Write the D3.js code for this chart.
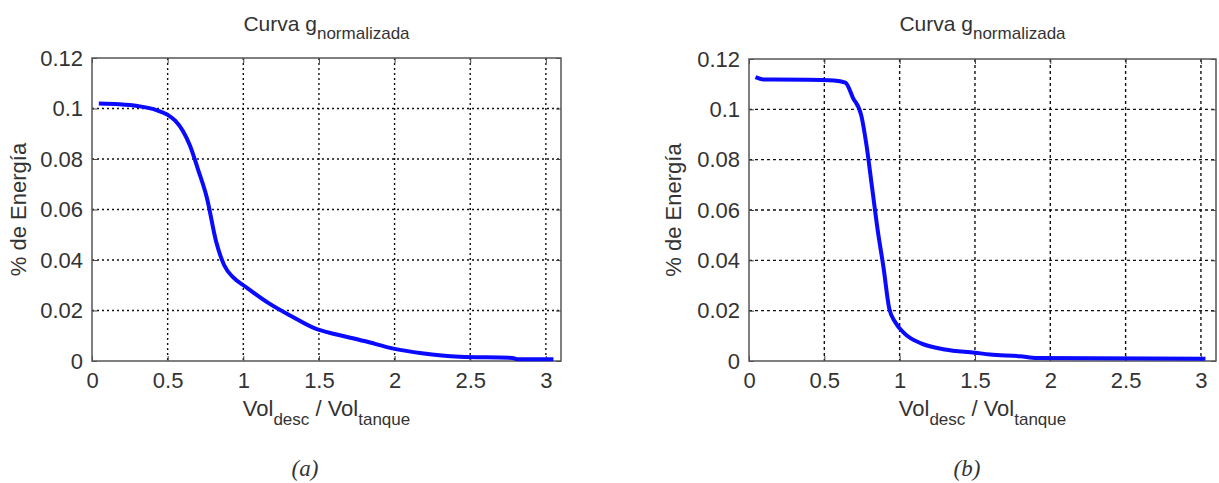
<!DOCTYPE html>
<html>
<head>
<meta charset="utf-8">
<script src="https://cdn.jsdelivr.net/npm/d3@7"></script>
<style>
  body { margin: 0; background: #fff; }
  text { font-family: "Liberation Sans", Arial, sans-serif; fill: #333; }
</style>
</head>
<body>
<svg id="chart" width="1219" height="483"></svg>
<script>
// tick labels shared by both panels
const xTicks = [0, 0.5, 1, 1.5, 2, 2.5, 3];
const yTicks = [0, 0.02, 0.04, 0.06, 0.08, 0.1, 0.12];

// panel (a)
const volA = [0.045, 0.18, 0.30, 0.43, 0.50, 0.55, 0.60, 0.646, 0.70, 0.76, 0.82, 0.873, 0.937, 1.01, 1.165, 1.316, 1.49, 1.57, 1.8, 2.0, 2.18, 2.43, 2.78, 2.81, 3.05];
const energyA = [0.102, 0.1017, 0.101, 0.0993, 0.0975, 0.0952, 0.0912, 0.0855, 0.076, 0.0645, 0.0474, 0.038, 0.0329, 0.0296, 0.023, 0.0178, 0.0125, 0.0112, 0.0079, 0.0048, 0.0031, 0.0017, 0.0012, 0.0007, 0.0007];

// panel (b)
const volB = [0.043, 0.094, 0.386, 0.563, 0.64, 0.69, 0.746, 0.779, 0.817, 0.855, 0.893, 0.931, 0.97, 1.033, 1.147, 1.3, 1.5, 1.6, 1.8, 1.91, 3.03];
const energyB = [0.1128, 0.1119, 0.1118, 0.1115, 0.1106, 0.1046, 0.0974, 0.0861, 0.0689, 0.0517, 0.0371, 0.0208, 0.0155, 0.0109, 0.0069, 0.0046, 0.0033, 0.0026, 0.0019, 0.0012, 0.0009];

const svg = d3.select("#chart");

function drawPanel(cfg) {
    const x = d3.scaleLinear().domain([0, 3.1]).range([cfg.left, cfg.right]);
    const y = d3.scaleLinear().domain([0, 0.12]).range([cfg.bottom, cfg.top]);
    const mid = (cfg.left + cfg.right) / 2;
    const g = svg.append("g");

    // dotted grid
    g.append("g").selectAll("line")
        .data(xTicks.slice(1))
        .join("line")
        .attr("x1", d => x(d)).attr("x2", d => x(d))
        .attr("y1", cfg.top).attr("y2", cfg.bottom)
        .attr("stroke", "#111").attr("stroke-width", 1.4)
        .attr("stroke-dasharray", cfg.dash);
    g.append("g").selectAll("line")
        .data(yTicks.slice(1, -1))
        .join("line")
        .attr("y1", d => y(d)).attr("y2", d => y(d))
        .attr("x1", cfg.left).attr("x2", cfg.right)
        .attr("stroke", "#111").attr("stroke-width", 1.4)
        .attr("stroke-dasharray", cfg.dash);

    // axes, ticks inward on all four sides
    const xAxis = g.append("g")
        .attr("transform", `translate(0,${cfg.bottom})`)
        .call(d3.axisBottom(x).tickValues(xTicks).tickSize(-5).tickPadding(11).tickFormat(d => String(d)));
    const yAxis = g.append("g")
        .attr("transform", `translate(${cfg.left},0)`)
        .call(d3.axisLeft(y).tickValues(yTicks).tickSize(-5).tickPadding(9).tickFormat(d => String(d)));
    g.append("g")
        .attr("transform", `translate(0,${cfg.top})`)
        .call(d3.axisTop(x).tickValues(xTicks).tickSize(-5).tickFormat(""));
    g.append("g")
        .attr("transform", `translate(${cfg.right},0)`)
        .call(d3.axisRight(y).tickValues(yTicks).tickSize(-5).tickFormat(""));
    g.selectAll(".domain").remove();
    g.selectAll(".tick line").attr("stroke", "#444");
    xAxis.selectAll("text").attr("font-size", 22).attr("fill", "#333");
    yAxis.selectAll("text").attr("font-size", 22).attr("fill", "#333");

    // box
    g.append("rect")
        .attr("x", cfg.left).attr("y", cfg.top)
        .attr("width", cfg.right - cfg.left).attr("height", cfg.bottom - cfg.top)
        .attr("fill", "none").attr("stroke", "#555").attr("stroke-width", 1.5);

    // curve
    const pts = cfg.xs.map((v, i) => [v, cfg.ys[i]]);
    g.append("path")
        .datum(pts)
        .attr("fill", "none")
        .attr("stroke", "#0a0aff")
        .attr("stroke-width", 4)
        .attr("stroke-linejoin", "round")
        .attr("d", d3.line().x(d => x(d[0])).y(d => y(d[1])).curve(d3.curveMonotoneX));

    // title
    const t = g.append("text")
        .attr("x", mid).attr("y", 31)
        .attr("text-anchor", "middle")
        .attr("font-size", 21);
    t.append("tspan").text("Curva g");
    t.append("tspan").attr("dy", 8).attr("font-size", 17).text("normalizada");

    // x label
    const xl = g.append("text")
        .attr("x", mid).attr("y", 416)
        .attr("text-anchor", "middle")
        .attr("font-size", 22);
    xl.append("tspan").text("Vol");
    xl.append("tspan").attr("dy", 9).attr("font-size", 17).text("desc");
    xl.append("tspan").attr("dy", -9).text(" / Vol");
    xl.append("tspan").attr("dy", 9).attr("font-size", 17).text("tanque");

    // y label
    g.append("text")
        .attr("transform", `translate(${cfg.ylabX},${(cfg.top + cfg.bottom) / 2}) rotate(-90)`)
        .attr("text-anchor", "middle")
        .attr("font-size", 22)
        .text("% de Energía");

    // caption
    g.append("text")
        .attr("x", cfg.capX).attr("y", 476)
        .attr("text-anchor", "middle")
        .attr("font-style", "italic")
        .attr("font-size", 23)
        .attr("fill", "#000")
        .style("font-family", "'Liberation Serif', 'Times New Roman', serif")
        .text(cfg.caption);
}

drawPanel({ left: 92, right: 561, top: 58, bottom: 361, xs: volA, ys: energyA,
    dash: "2,3", ylabX: 26, capX: 305, caption: "(a)" });
drawPanel({ left: 749, right: 1216, top: 59, bottom: 361, xs: volB, ys: energyB,
    dash: "3,3", ylabX: 681, capX: 967, caption: "(b)" });
</script>
</body>
</html>
